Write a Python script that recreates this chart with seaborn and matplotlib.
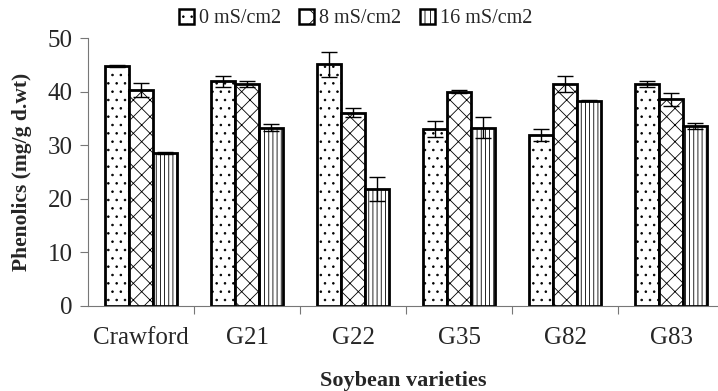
import matplotlib
matplotlib.use("Agg")
import matplotlib.pyplot as plt
import seaborn as sns
import pandas as pd
from matplotlib.patches import Patch

varieties = ["Crawford", "G21", "G22", "G35", "G82", "G83"]
treatments = ["0 mS/cm2", "8 mS/cm2", "16 mS/cm2"]
phen_0 = [44.8, 41.9, 45.1, 33.1, 31.9, 41.4]
phen_8 = [40.3, 41.4, 36.1, 40.0, 41.4, 38.6]
phen_16 = [28.5, 33.3, 21.8, 33.3, 38.3, 33.6]
err_0 = [0.2, 1.0, 2.3, 1.5, 1.1, 0.5]
err_8 = [1.3, 0.5, 0.9, 0.3, 1.5, 1.2]
err_16 = [0.2, 0.6, 2.3, 1.9, 0.1, 0.5]

values = [phen_0, phen_8, phen_16]
errors = [err_0, err_8, err_16]
hatches = ["..", "xx", "||||"]

rows = []
for t, vals in zip(treatments, values):
    for v, val in zip(varieties, vals):
        rows.append({"variety": v, "treatment": t, "value": val})
df = pd.DataFrame(rows)

sns.set_style("white")
plt.rcParams["font.family"] = ["Liberation Serif", "DejaVu Serif"]
plt.rcParams["hatch.linewidth"] = 0.6

fig = plt.figure(figsize=(7.18, 3.91), dpi=100)
ax = fig.add_axes([0.1226, 0.2174, 0.8774, 0.6854])

sns.barplot(data=df, x="variety", y="value", hue="treatment", order=varieties,
            hue_order=treatments, palette=["white"] * 3, width=0.68,
            edgecolor="black", linewidth=2.0, errorbar=None, legend=False, ax=ax)

for cont, h, errs in zip(ax.containers, hatches, errors):
    xs, ys = [], []
    for bar in cont.patches:
        bar.set_hatch(h)
        xs.append(bar.get_x() + bar.get_width() / 2)
        ys.append(bar.get_height())
    ax.errorbar(xs, ys, yerr=errs, fmt="none", ecolor="black",
                elinewidth=1.0, capsize=5.5, capthick=1.0, zorder=5)

ax.set_ylim(0, 50)
ax.set_xlim(-0.5, 5.44)
ax.set_yticks([0, 10, 20, 30, 40, 50])
ax.tick_params(axis="y", labelsize=18, length=6, width=0.8, color="#777777",
               direction="out", left=True, pad=5)
ax.tick_params(axis="x", which="major", labelsize=18, length=0, pad=15)
ax.set_xticks([i + 0.5 for i in range(5)], minor=True)
ax.tick_params(axis="x", which="minor", length=6, width=0.8, color="#777777",
               direction="out", bottom=True)

for side in ["top", "right"]:
    ax.spines[side].set_visible(False)
for side in ["left", "bottom"]:
    ax.spines[side].set_color("#777777")
    ax.spines[side].set_linewidth(0.8)

ax.set_xlabel("Soybean varieties", fontsize=16, fontweight="bold", labelpad=16)
ax.set_ylabel("Phenolics (mg/g d.wt)", fontsize=15.5, fontweight="bold", labelpad=11)

handles = [Patch(facecolor="white", edgecolor="black", hatch=h, linewidth=1.8)
           for h in ["..", "x", "|||"]]
fig.legend(handles=handles, labels=treatments, loc="center",
           bbox_to_anchor=(0.495, 0.952), ncol=3, frameon=False, fontsize=14.5,
           handlelength=0.75, handleheight=0.75, handletextpad=0.25,
           columnspacing=0.9, borderaxespad=0)

fig.savefig("out.png", dpi=100)
